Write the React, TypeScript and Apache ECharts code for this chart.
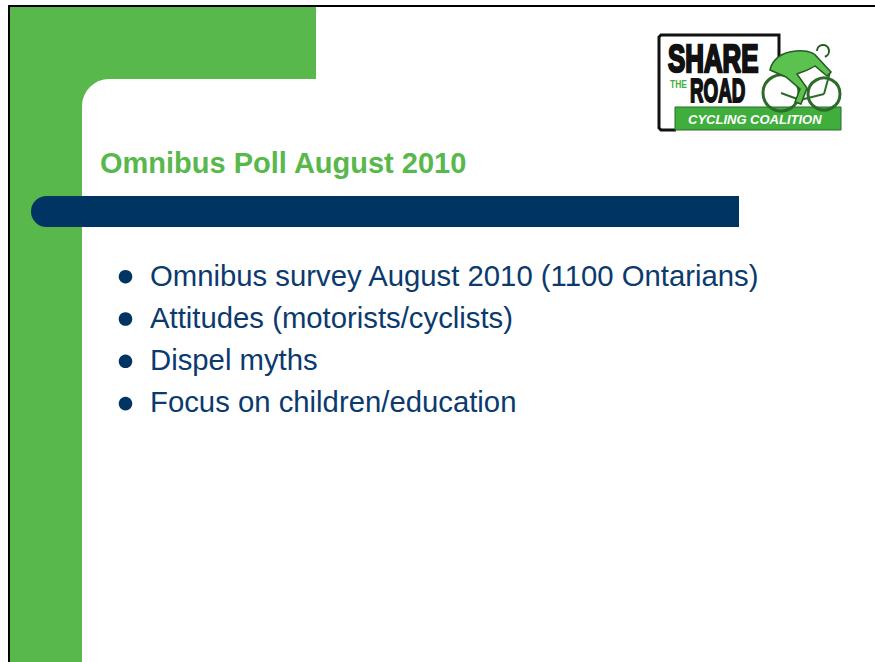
import React, { useEffect, useRef } from "react";
import * as echarts from "echarts";

const titleText = "Omnibus Poll August 2010";
const bullets = [
  "Omnibus survey August 2010 (1100 Ontarians)",
  "Attitudes (motorists/cyclists)",
  "Dispel myths",
  "Focus on children/education",
];
const logoWords = ["SHARE", "THE", "ROAD", "CYCLING COALITION"];

const GREEN = "#58B84C";
const NAVY = "#003462";
const TEXT_NAVY = "#0B3A6E";
const LOGO_GREEN = "#3FAE3C";
const FONT = '"Liberation Sans", Arial, Helvetica, sans-serif';

const riderPath =
  "M770,70 C772,60 781,52 796,51 C808,50 815,53 818,58 L831,72 L827,76 L815,66 C809,70 802,72 797,74 L807,88 L801,104 L795,102 L800,89 L786,77 Z";

export default function App() {
  const ref = useRef<HTMLDivElement>(null);
  useEffect(() => {
    if (!ref.current) return;
    echarts.graphic.registerShape(
      "rider",
      echarts.graphic.extendPath(riderPath, {})
    );
    const chart = echarts.init(ref.current, null, {
      renderer: "svg",
      width: 875,
      height: 662,
    });
    const bulletEls: any[] = [];
    bullets.forEach((b, i) => {
      const base = 285 + i * 42.3;
      bulletEls.push({
        type: "circle",
        shape: { cx: 125.5, cy: base - 8.3, r: 6.8 },
        style: { fill: NAVY },
      });
      bulletEls.push({
        type: "text",
        x: 150,
        y: base - 10,
        style: {
          text: b,
          fill: TEXT_NAVY,
          fontFamily: FONT,
          fontSize: 29.3,
          align: "left",
          verticalAlign: "middle",
        },
      });
    });
    chart.setOption({
      animation: false,
      backgroundColor: "#ffffff",
      graphic: [
        // slide frame
        { type: "rect", shape: { x: 8, y: 5, width: 867, height: 2 }, style: { fill: "#000" } },
        { type: "rect", shape: { x: 8, y: 5, width: 2, height: 657 }, style: { fill: "#000" } },
        // green L-shape
        { type: "rect", shape: { x: 10, y: 7, width: 306, height: 72 }, style: { fill: GREEN } },
        { type: "rect", shape: { x: 10, y: 79, width: 72, height: 583 }, style: { fill: GREEN } },
        { type: "rect", shape: { x: 82, y: 79, width: 40, height: 40 }, style: { fill: GREEN } },
        { type: "rect", shape: { x: 82, y: 79, width: 793, height: 583, r: [27, 0, 0, 0] }, style: { fill: "#fff" } },
        // navy bar
        { type: "rect", shape: { x: 31, y: 196, width: 708, height: 31, r: [15.5, 0, 0, 15.5] }, style: { fill: NAVY } },
        // title
        {
          type: "text",
          x: 100,
          y: 163,
          style: {
            text: titleText,
            fill: GREEN,
            fontFamily: FONT,
            fontWeight: "bold",
            fontSize: 29,
            align: "left",
            verticalAlign: "middle",
          },
        },
        ...bulletEls,
        // logo
        {
          type: "polyline",
          shape: { points: [[779, 60], [779, 35], [661, 35], [659, 37], [659, 128], [661, 130], [676, 130]] },
          style: { stroke: "#111", lineWidth: 3, fill: null },
        },
        { type: "rect", shape: { x: 675, y: 107, width: 166, height: 23 }, style: { fill: LOGO_GREEN, stroke: "#2a6a2a", lineWidth: 1 } },
        {
          type: "text",
          x: 668,
          y: 59,
          scaleX: 0.68,
          style: { text: logoWords[0], fill: "#111", stroke: "#111", lineWidth: 2.5, fontFamily: FONT, fontWeight: "bold", fontSize: 38, align: "left", verticalAlign: "middle" },
        },
        {
          type: "text",
          x: 670,
          y: 84,
          scaleX: 0.77,
          style: { text: logoWords[1], fill: LOGO_GREEN, fontFamily: FONT, fontWeight: "bold", fontSize: 11, align: "left", verticalAlign: "middle" },
        },
        {
          type: "text",
          x: 690,
          y: 91,
          scaleX: 0.57,
          style: { text: logoWords[2], fill: "#111", stroke: "#111", lineWidth: 2, fontFamily: FONT, fontWeight: "bold", fontSize: 33, align: "left", verticalAlign: "middle" },
        },
        {
          type: "text",
          x: 688,
          y: 119,
          style: { text: logoWords[3], fill: "#fff", fontFamily: FONT, fontWeight: "bold", fontStyle: "italic", fontSize: 13, align: "left", verticalAlign: "middle" },
        },
        // cyclist
        { type: "circle", shape: { cx: 781, cy: 93, r: 18 }, style: { fill: "none", stroke: "#2d6b2a", lineWidth: 3 } },
        { type: "circle", shape: { cx: 824, cy: 94, r: 16 }, style: { fill: "none", stroke: "#2d6b2a", lineWidth: 3 } },
        { type: "line", shape: { x1: 781, y1: 93, x2: 800, y2: 100 }, style: { stroke: "#2d6b2a", lineWidth: 2 } },
        { type: "line", shape: { x1: 800, y1: 100, x2: 824, y2: 94 }, style: { stroke: "#2d6b2a", lineWidth: 2 } },
        { type: "line", shape: { x1: 830, y1: 72, x2: 824, y2: 94 }, style: { stroke: "#2d6b2a", lineWidth: 2 } },
        { type: "rider", x: 0, y: 0, style: { fill: "#5CC24F", stroke: "#245a22", lineWidth: 1.5 } },
        { type: "arc", shape: { cx: 823, cy: 51, r: 6, startAngle: Math.PI, endAngle: Math.PI * 2.4 }, style: { fill: null, stroke: "#245a22", lineWidth: 2 } },
      ],
    });
    return () => chart.dispose();
  }, []);
  return (
    <div
      ref={ref}
      style={{ position: "absolute", left: 0, top: 0, width: 875, height: 662 }}
    />
  );
}
